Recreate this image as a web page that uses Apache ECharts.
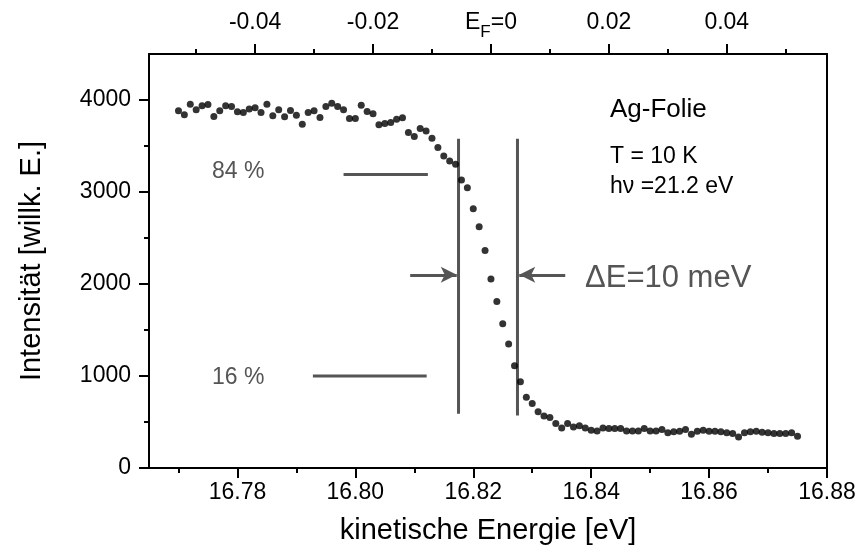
<!DOCTYPE html>
<html>
<head>
<meta charset="utf-8">
<script src="https://cdn.jsdelivr.net/npm/echarts@6/dist/echarts.min.js"></script>
<style>
  html, body { margin: 0; padding: 0; background: #fff; }
  #chart { width: 860px; height: 554px; }
</style>
</head>
<body>
<div id="chart"></div>
<script>
// Messpunkte (kinetische Energie in eV, Intensität in willk. E.)
const energy = [
  16.770, 16.771, 16.772, 16.773, 16.774, 16.775, 16.776, 16.777, 16.778, 16.779,
  16.780, 16.781, 16.782, 16.783, 16.784, 16.785, 16.786, 16.787, 16.788, 16.789,
  16.790, 16.791, 16.792, 16.793, 16.794, 16.795, 16.796, 16.797, 16.798, 16.799,
  16.800, 16.801, 16.802, 16.803, 16.804, 16.805, 16.806, 16.807, 16.808, 16.809,
  16.810, 16.811, 16.812, 16.813, 16.814, 16.815, 16.816, 16.817, 16.818, 16.819,
  16.820, 16.821, 16.822, 16.823, 16.824, 16.825, 16.826, 16.827, 16.828, 16.829,
  16.830, 16.831, 16.832, 16.833, 16.834, 16.835, 16.836, 16.837, 16.838, 16.839,
  16.840, 16.841, 16.842, 16.843, 16.844, 16.845, 16.846, 16.847, 16.848, 16.849,
  16.850, 16.851, 16.852, 16.853, 16.854, 16.855, 16.856, 16.857, 16.858, 16.859,
  16.860, 16.861, 16.862, 16.863, 16.864, 16.865, 16.866, 16.867, 16.868, 16.869,
  16.870, 16.871, 16.872, 16.873, 16.874, 16.875
];
const intensity = [
  3882, 3839, 3955, 3893, 3937, 3952, 3821, 3882, 3937, 3930,
  3871, 3865, 3901, 3915, 3865, 3955, 3828, 3893, 3817, 3886,
  3835, 3737, 3865, 3882, 3810, 3930, 3966, 3930, 3893, 3799,
  3799, 3944, 3875, 3850, 3730, 3745, 3756, 3792, 3806, 3647,
  3603, 3690, 3664, 3585, 3483, 3392, 3337, 3301, 3130, 3047,
  2818, 2622, 2363, 2054, 1810, 1567, 1349, 1112, 938, 768,
  702, 611, 564, 550, 484, 436, 484, 447, 458, 436,
  411, 403, 436, 430, 430, 430, 403, 403, 403, 430,
  403, 403, 419, 382, 393, 400, 419, 367, 400, 411,
  400, 400, 393, 382, 375, 338, 382, 393, 400, 389,
  382, 375, 375, 375, 382, 346
];

// Achsen
const xTicks = [16.78, 16.80, 16.82, 16.84, 16.86, 16.88];
const xMinorTicks = [16.77, 16.79, 16.81, 16.83, 16.85, 16.87];
const topTicks = [-0.04, -0.02, 0, 0.02, 0.04];
const topMinorTicks = [-0.05, -0.03, -0.01, 0.01, 0.03, 0.05];
const yTicks = [0, 1000, 2000, 3000, 4000];
const yMinorTicks = [500, 1500, 2500, 3500];

// Hilfslinien: 84 % / 16 % Niveau, Kantenbreite
const level84 = [[16.798, 3190], [16.8123, 3190]];
const level16 = [[16.7928, 1000], [16.8121, 1000]];
const edgeLow = [[16.8175, 590], [16.8175, 3580]];
const edgeHigh = [[16.8275, 570], [16.8275, 3580]];
const arrowLeft = [[16.8093, 2100], [16.8172, 2100]];
const arrowRight = [[16.8356, 2100], [16.8278, 2100]];

const FONT = 'Liberation Sans, Arial, sans-serif';
const GREY = '#555555';

const gridBox = { left: 149, right: 33, top: 54, bottom: 86 };
const line = { show: true, onZero: false, lineStyle: { color: '#000', width: 2 } };
const noLine = { show: false, onZero: false };

const option = {
  animation: false,
  backgroundColor: '#fff',
  textStyle: { fontFamily: FONT },
  grid: [
    Object.assign({}, gridBox),
    Object.assign({}, gridBox)
  ],
  xAxis: [
    {
      gridIndex: 0, type: 'value', position: 'bottom',
      min: 16.765, max: 16.88,
      axisLine: line,
      axisTick: { show: true, customValues: xTicks, length: 10, lineStyle: { color: '#000', width: 2 } },
      axisLabel: { customValues: xTicks, color: '#000', fontSize: 23, margin: 13, formatter: v => v.toFixed(2) },
      splitLine: { show: false },
      name: 'kinetische Energie [eV]', nameLocation: 'middle', nameGap: 48,
      nameTextStyle: { fontSize: 29, color: '#000' }
    },
    {
      gridIndex: 0, type: 'value', position: 'top',
      min: -0.058, max: 0.057,
      axisLine: line,
      axisTick: { show: true, customValues: topTicks, length: 10, lineStyle: { color: '#000', width: 2 } },
      axisLabel: {
        customValues: topTicks, color: '#000', margin: 13,
        formatter: v => Math.abs(v) < 1e-9 ? '{e|E}{s|F}{e|=0}' : '{e|' + v.toFixed(2) + '}',
        rich: {
          e: { fontSize: 23, color: '#000', verticalAlign: 'bottom', padding: [0, 0, 7, 0] },
          s: { fontSize: 17, color: '#000', verticalAlign: 'bottom' }
        }
      },
      splitLine: { show: false }
    },
    {
      gridIndex: 1, type: 'value', position: 'bottom',
      min: 16.765, max: 16.88,
      axisLine: noLine,
      axisTick: { show: true, customValues: xMinorTicks, length: 5, lineStyle: { color: '#000', width: 2 } },
      axisLabel: { show: false },
      splitLine: { show: false }
    },
    {
      gridIndex: 1, type: 'value', position: 'top',
      min: -0.058, max: 0.057,
      axisLine: noLine,
      axisTick: { show: true, customValues: topMinorTicks, length: 5, lineStyle: { color: '#000', width: 2 } },
      axisLabel: { show: false },
      splitLine: { show: false }
    }
  ],
  yAxis: [
    {
      gridIndex: 0, type: 'value', position: 'left',
      min: 0, max: 4500,
      axisLine: line,
      axisTick: { show: true, customValues: yTicks, length: 10, lineStyle: { color: '#000', width: 2 } },
      axisLabel: { customValues: yTicks, color: '#000', fontSize: 23, margin: 18, formatter: v => String(v) },
      splitLine: { show: false },
      name: 'Intensität [willk. E.]', nameLocation: 'middle', nameGap: 103,
      nameTextStyle: { fontSize: 29, color: '#000' }
    },
    {
      gridIndex: 0, type: 'value', position: 'right',
      min: 0, max: 4500,
      axisLine: line,
      axisTick: { show: false },
      axisLabel: { show: false },
      splitLine: { show: false }
    },
    {
      gridIndex: 1, type: 'value', position: 'left',
      min: 0, max: 4500,
      axisLine: noLine,
      axisTick: { show: true, customValues: yMinorTicks, length: 5, lineStyle: { color: '#000', width: 2 } },
      axisLabel: { show: false },
      splitLine: { show: false }
    }
  ],
  graphic: [
    { type: 'text', x: 212, y: 172, style: { text: '84 %', fill: GREY, font: '23px ' + FONT, verticalAlign: 'middle' } },
    { type: 'text', x: 212, y: 378, style: { text: '16 %', fill: GREY, font: '23px ' + FONT, verticalAlign: 'middle' } },
    { type: 'text', x: 585, y: 278, style: { text: 'ΔE=10 meV', fill: GREY, font: '31px ' + FONT, verticalAlign: 'middle' } },
    { type: 'text', x: 610, y: 110, style: { text: 'Ag-Folie', fill: '#000', font: '26px ' + FONT, verticalAlign: 'middle' } },
    { type: 'text', x: 610, y: 157, style: { text: 'T = 10 K', fill: '#000', font: '23px ' + FONT, verticalAlign: 'middle' } },
    { type: 'text', x: 610, y: 187, style: { text: 'hν =21.2 eV', fill: '#000', font: '23px ' + FONT, verticalAlign: 'middle' } }
  ],
  series: [
    {
      type: 'line', xAxisIndex: 0, yAxisIndex: 0, data: level84, symbol: 'none',
      lineStyle: { color: GREY, width: 3 }, silent: true
    },
    {
      type: 'line', xAxisIndex: 0, yAxisIndex: 0, data: level16, symbol: 'none',
      lineStyle: { color: GREY, width: 3 }, silent: true
    },
    {
      type: 'line', xAxisIndex: 0, yAxisIndex: 0, data: edgeLow, symbol: 'none',
      lineStyle: { color: GREY, width: 3 }, silent: true
    },
    {
      type: 'line', xAxisIndex: 0, yAxisIndex: 0, data: edgeHigh, symbol: 'none',
      lineStyle: { color: GREY, width: 3 }, silent: true,
      markLine: {
        silent: true, symbol: ['none', 'arrow'], symbolSize: [12, 16],
        label: { show: false },
        lineStyle: { color: GREY, width: 3, type: 'solid' },
        data: [
          [{ coord: arrowLeft[0] }, { coord: arrowLeft[1] }],
          [{ coord: arrowRight[0] }, { coord: arrowRight[1] }]
        ]
      }
    },
    {
      type: 'scatter', xAxisIndex: 0, yAxisIndex: 0,
      data: energy.map((e, i) => [e, intensity[i]]),
      symbolSize: 7, itemStyle: { color: '#000' }, silent: true, z: 5
    }
  ]
};

const chart = echarts.init(document.getElementById('chart'));
chart.setOption(option);
</script>
</body>
</html>
